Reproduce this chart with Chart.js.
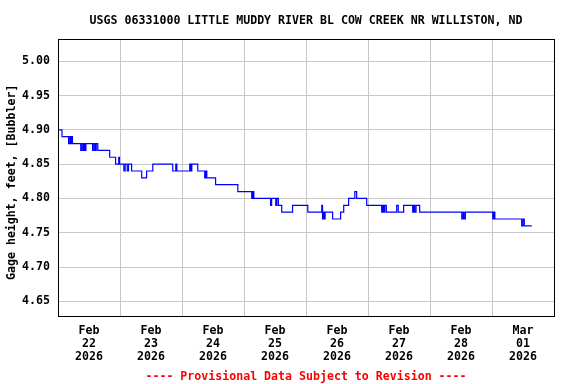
<!DOCTYPE html>
<html><head><meta charset="utf-8">
<script src="https://cdn.jsdelivr.net/npm/chart.js@4"></script>
<style>html,body{margin:0;padding:0;background:#fff;}</style>
</head><body>
<canvas id="c" width="576" height="384"></canvas>
<script>
const titleText = "USGS 06331000 LITTLE MUDDY RIVER BL COW CREEK NR WILLISTON, ND";
const yAxisTitle = "Gage height, feet, [Bubbler]";
const footerText = "---- Provisional Data Subject to Revision ----";

// hours since Feb 22 2026 00:00
const hours = [0,1.55,4.1,4.6,5.0,5.3,5.6,8.8,9.3,9.8,10.2,10.5,10.8,13.4,13.9,14.4,14.8,15.4,20.0,22.3,23.5,23.8,25.5,26.0,26.8,27.3,28.5,32.4,34.3,36.7,44.4,45.6,46.0,51.0,51.4,51.8,54.1,56.8,57.2,57.6,61.0,69.6,75.0,75.4,75.8,82.3,82.7,84.3,84.7,85.3,86.6,90.8,96.7,102.1,102.4,102.8,103.1,103.4,106.3,109.4,110.6,112.5,114.9,115.6,119.5,125.3,125.7,126.1,126.5,127.1,131.1,131.7,133.8,137.3,137.7,138.1,138.6,140.0,156.3,156.8,157.2,157.7,168.3,168.7,169.1,179.5,180.0,180.5,183.4];
const gageHeight = [4.90,4.89,4.88,4.89,4.88,4.89,4.88,4.87,4.88,4.87,4.88,4.87,4.88,4.87,4.88,4.87,4.88,4.87,4.86,4.85,4.86,4.85,4.84,4.85,4.84,4.85,4.84,4.83,4.84,4.85,4.84,4.85,4.84,4.85,4.84,4.85,4.84,4.83,4.84,4.83,4.82,4.81,4.80,4.81,4.80,4.79,4.80,4.79,4.80,4.79,4.78,4.79,4.78,4.79,4.77,4.78,4.77,4.78,4.77,4.78,4.79,4.80,4.81,4.80,4.79,4.78,4.79,4.78,4.79,4.78,4.79,4.78,4.79,4.78,4.79,4.78,4.79,4.78,4.77,4.78,4.77,4.78,4.77,4.78,4.77,4.76,4.77,4.76,4.76];

const yTickValues = [4.65,4.70,4.75,4.80,4.85,4.90,4.95,5.00];
const dayGridHours = [0,24,48,72,96,120,144,168,192];
const dayLabelHours = [12,36,60,84,108,132,156,180];
const dayLabels = [["Feb","22","2026"],["Feb","23","2026"],["Feb","24","2026"],["Feb","25","2026"],["Feb","26","2026"],["Feb","27","2026"],["Feb","28","2026"],["Mar","01","2026"]];
const yMin = 4.6286, yMax = 5.0325;
const xMin = 0, xMax = 192;

const FONT = "'DejaVu Sans Mono', 'Liberation Mono', monospace";
const font = {family: FONT, size: 11.6, weight: 'bold', lineHeight: 1.2};
const tickFont = {family: FONT, size: 11.6, weight: 'bold', lineHeight: 1.1};
const GRID = '#c8c8c8';

const framePlugin = {
  id: 'frame',
  afterDraw(chart) {
    const ctx = chart.ctx, ca = chart.chartArea;
    ctx.save();
    ctx.strokeStyle = '#000';
    ctx.lineWidth = 1;
    const l = Math.round(ca.left) + 0.5, t = Math.round(ca.top) + 0.5;
    const r = Math.round(ca.right) + 0.5, b = Math.round(ca.bottom) + 0.5;
    ctx.strokeRect(l, t, r - l, b - t);
    ctx.fillStyle = '#000';
    ctx.font = "bold 11.6px " + FONT;
    ctx.translate(11.7, 280);
    ctx.rotate(-Math.PI / 2);
    ctx.textAlign = 'left';
    ctx.textBaseline = 'middle';
    ctx.fillText(yAxisTitle, 0, 0);
    ctx.restore();
  }
};

new Chart(document.getElementById('c'), {
  type: 'line',
  data: {
    datasets: [{
      data: hours.map((h, i) => ({x: h, y: gageHeight[i]})),
      borderColor: '#0000ff',
      borderWidth: 1.2,
      pointRadius: 0,
      stepped: true,
      fill: false
    }]
  },
  options: {
    responsive: false,
    devicePixelRatio: 1,
    animation: false,
    layout: {padding: {top: 0, right: 22, bottom: 0, left: 0}},
    scales: {
      x: {
        type: 'linear', min: xMin, max: xMax,
        afterBuildTicks: s => { s.ticks = [...dayGridHours, ...dayLabelHours].sort((a, b) => a - b).map(v => ({value: v})); },
        afterFit: s => { s.height = 68 - 15.92; },
        ticks: {
          autoSkip: false, maxRotation: 0, minRotation: 0, padding: 9, color: '#000', font: tickFont,
          callback: v => { const i = dayLabelHours.indexOf(v); return i >= 0 ? dayLabels[i] : ''; }
        },
        grid: {color: c => (c.tick && dayGridHours.includes(c.tick.value)) ? GRID : 'rgba(0,0,0,0)', drawTicks: false, lineWidth: 1},
        border: {display: false}
      },
      y: {
        type: 'linear', min: yMin, max: yMax,
        afterBuildTicks: s => { s.ticks = yTickValues.map(v => ({value: v})); },
        afterFit: s => { s.width = 58; },
        ticks: {padding: 8, color: '#000', font: tickFont, callback: v => Number(v).toFixed(2)},
        grid: {color: GRID, drawTicks: false, lineWidth: 1},
        border: {display: false}
      }
    },
    plugins: {
      legend: {display: false},
      tooltip: {enabled: false},
      title: {display: true, text: titleText, color: '#000', font: font, fullSize: false, padding: {top: 14, bottom: 11}},
      subtitle: {display: true, position: 'bottom', text: footerText, color: '#ff0000', font: font, fullSize: false, padding: {top: 1.5, bottom: 0.5}}
    }
  },
  plugins: [framePlugin]
});
</script>
</body></html>
